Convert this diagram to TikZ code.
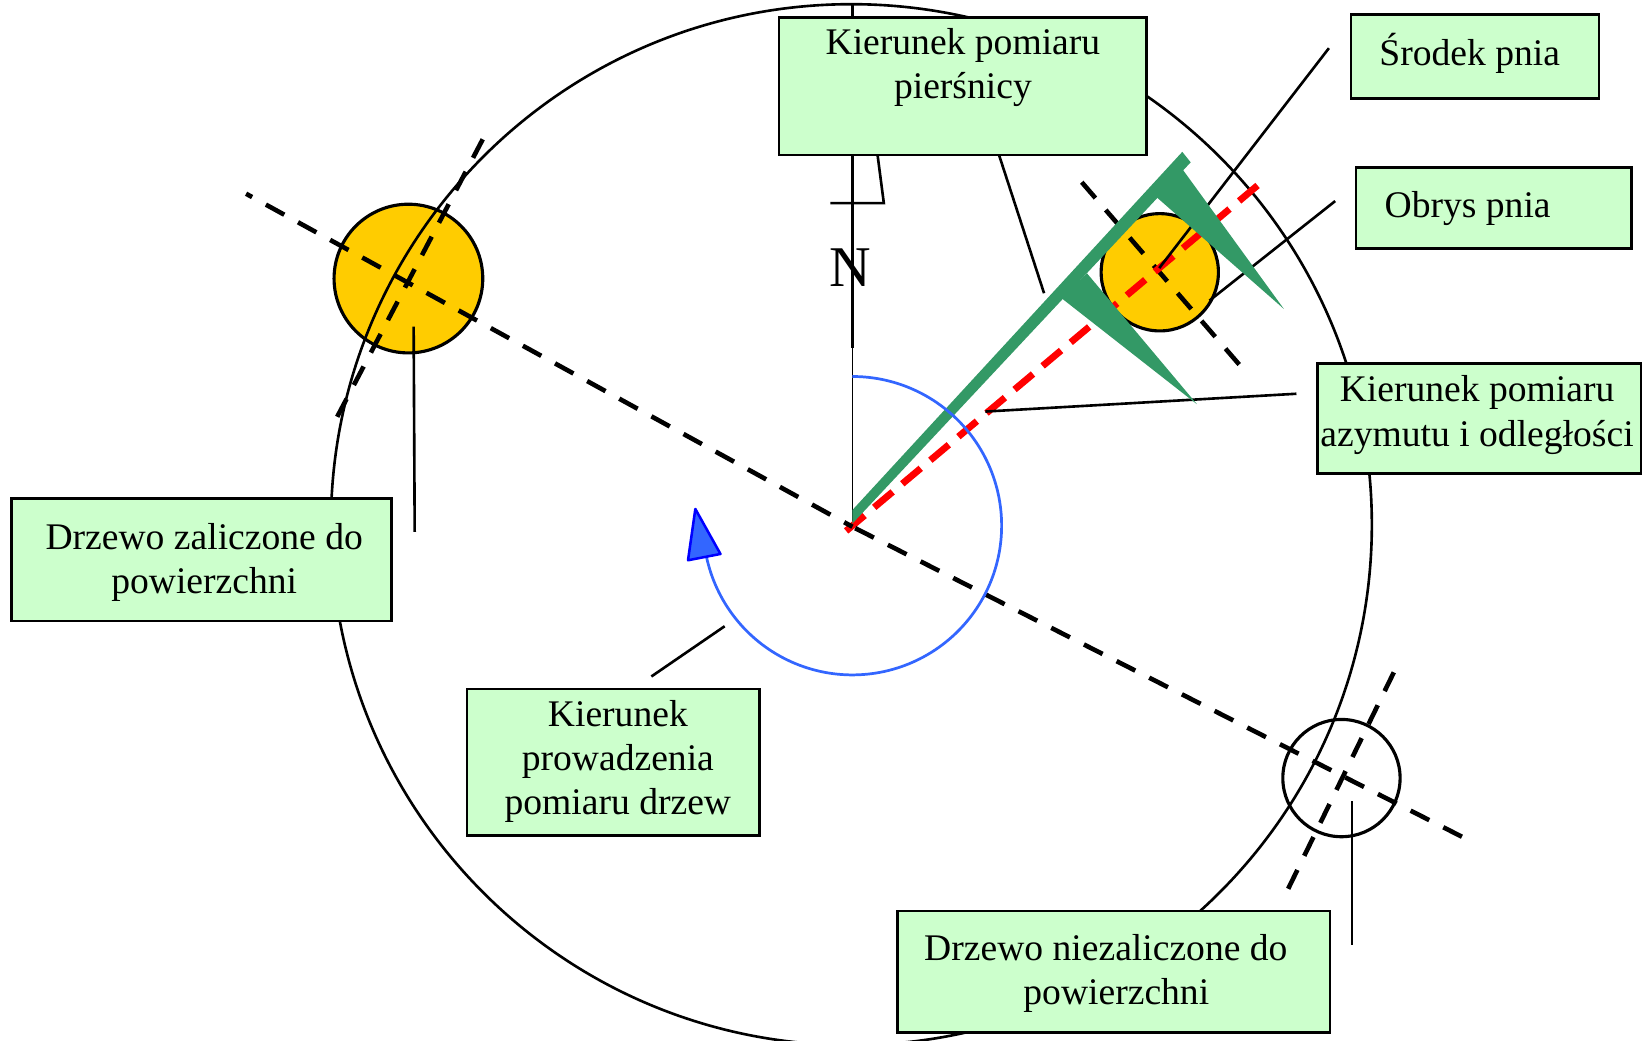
\documentclass[tikz,border=0pt]{standalone}
\usepackage{fontspec}
\setmainfont{Liberation Serif}
\definecolor{boxgreen}{HTML}{CCFFCC}
\definecolor{armgreen}{HTML}{339966}
\definecolor{treeorange}{HTML}{FFCC00}
\definecolor{arcblue}{HTML}{3366FF}
\tikzset{
  labelbox/.style={draw=black,fill=boxgreen,line width=2.5pt,align=center,inner sep=0pt,
    font=\fontsize{35.9}{42.2}\selectfont},
  leadline/.style={draw=black,line width=2.5pt},
  treecircle/.style={circle,draw=black,line width=3pt,inner sep=0pt},
  blackdash/.style={draw=black,line width=4.4pt,dash pattern=on 20pt off 15pt},
  reddash/.style={draw=red,line width=6.5pt,dash pattern=on 23pt off 12pt},
  armfill/.style={fill=armgreen,draw=none},
}
\begin{document}
\begin{tikzpicture}[x=1pt,y=-1pt]
\useasboundingbox (0,0) rectangle (1568,994);
\clip (0,0) rectangle (1568,994);
\fill[white] (0,0) rectangle (1568,994);
% key points
\coordinate (O) at (814,503);
\coordinate (Nt) at (814,5);
\coordinate (Nm) at (814,332);
\coordinate (Nb) at (814,505);
\coordinate (westEnd) at (235,185);
\coordinate (eastEnd) at (1396,799);
\coordinate (redStart) at (808,507);
\coordinate (redEnd) at (1201,177);
% limit circle
\draw[black,line width=2.5pt] (813,501) circle [radius=497pt];
% north line
\draw[leadline] (Nt) -- (Nm);
\draw[black,line width=1.4pt] (Nm) -- (Nb);
\coordinate (tickL) at (793,194);
\coordinate (tickC) at (844,194);
\coordinate (tickT) at (838,148);
\draw[leadline] (tickL) -- (tickC) -- (tickT);
\node[font=\fontsize{55}{55}\selectfont,inner sep=0pt] (north) at (811.5,256) {N};
% trees
\node[treecircle,fill=treeorange,minimum size=142pt] (treeW) at (390,266) {};
\node[treecircle,minimum size=112pt] (treeE) at (1281,743) {};
\node[treecircle,fill=treeorange,minimum size=112pt] (treeC) at (1107.5,260) {};
% limit circle again over the west tree
\begin{scope}
\clip (390,266) circle [radius=71pt];
\draw[black,line width=2.5pt] (813,501) circle [radius=497pt];
\end{scope}
% cross lines
\coordinate (wA) at (461,133);
\coordinate (wB) at (322,398);
\coordinate (eA) at (1331,642);
\coordinate (eB) at (1229,851);
\coordinate (cA) at (1033,174);
\coordinate (cB) at (1185,350);
\draw[blackdash] (wA) -- (wB);
\draw[blackdash] (eA) -- (eB);
\draw[blackdash] (cA) -- (cB);
% leader lines
\coordinate (l1a) at (1269,46);   \coordinate (l1b) at (1107,256);
\coordinate (l2a) at (1275,192);  \coordinate (l2b) at (1155,287);
\coordinate (l3a) at (954,148);   \coordinate (l3b) at (997,280);
\coordinate (l4a) at (1238,376);  \coordinate (l4b) at (941,393);
\coordinate (l5a) at (395,312);   \coordinate (l5b) at (396,508);
\coordinate (l6a) at (692,598);   \coordinate (l6b) at (622,646);
\coordinate (l7a) at (1291,765);  \coordinate (l7b) at (1291,902);
\draw[reddash] (redStart) -- (redEnd);
\draw[leadline] (l1a) -- (l1b);
\draw[leadline] (l2a) -- (l2b);
\draw[leadline] (l3a) -- (l3b);
\draw[leadline] (l4a) -- (l4b);
\draw[leadline] (l5a) -- (l5b);
\draw[leadline] (l6a) -- (l6b);
\draw[leadline] (l7a) -- (l7b);
% calliper
\fill[armfill] (814,487) -- (1129,145) -- (1137,155) -- (814,500) -- cycle;
\fill[armfill] (1128,160) -- (1103,187) -- (1226,295) -- cycle;
\fill[armfill] (1038,261) -- (1014,285) -- (1143,386) -- cycle;
% main dashed line
\draw[blackdash,dash phase=11pt] (O) -- (westEnd);
\draw[blackdash,dash phase=32pt] (O) -- (eastEnd);
% blue arc
\draw[arcblue,line width=2.6pt,smooth,samples=80,domain=90:-170]
  plot ({814+142.5*cos(\x)},{502-142.5*sin(\x)});
\draw[draw=blue,fill=arcblue,line width=2.4pt,line join=round] (664,486) -- (657,535) -- (688,529) -- cycle;
% boxes
\node[labelbox,minimum width=351pt,minimum height=131pt,text height=23pt,text depth=0pt] (bPier) at (919.5,82.5) {Kierunek pomiaru\\pierśnicy};
\node[labelbox,minimum width=237pt,minimum height=80pt,text height=18pt,text depth=0pt] (bSrodek) at (1408.5,54) {Środek pnia\hspace*{10pt}};
\node[labelbox,minimum width=263pt,minimum height=77pt,text height=19pt,text depth=0pt] (bObrys) at (1426.5,198.5) {Obrys pnia\hspace*{50pt}};
\node[labelbox,minimum width=309pt,minimum height=105pt,text height=53pt,text depth=0pt] (bAzym) at (1412.5,399.5) {Kierunek pomiaru\hspace*{4pt}\\azymutu i odległości\hspace*{4pt}};
\node[labelbox,minimum width=363pt,minimum height=117pt,text height=65pt,text depth=0pt] (bZal) at (192.5,534.5) {\hspace*{5pt}Drzewo zaliczone do\\\hspace*{5pt}powierzchni};
\node[labelbox,minimum width=279pt,minimum height=140pt,text height=100pt,text depth=0pt] (bProw) at (585.5,728) {\hspace*{9pt}Kierunek\\\hspace*{9pt}prowadzenia\\\hspace*{9pt}pomiaru drzew};
\node[labelbox,minimum width=413pt,minimum height=116pt,text height=63pt,text depth=0pt] (bNiez) at (1063.5,928) {Drzewo niezaliczone do\hspace*{15pt}\\\hspace*{5pt}powierzchni};
\end{tikzpicture}
\end{document}
